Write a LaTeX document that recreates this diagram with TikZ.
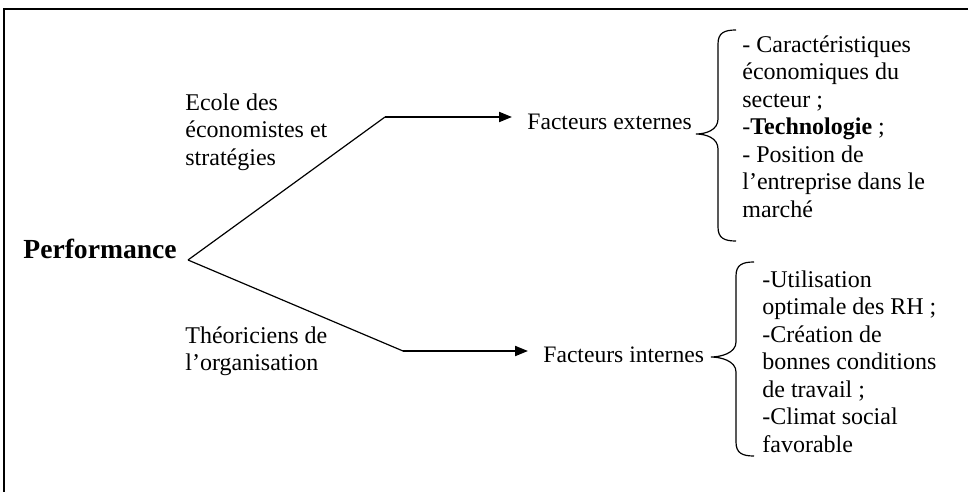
\documentclass[tikz,border=0pt]{standalone}
\usepackage{fontspec}
\setmainfont{Liberation Serif}
\usetikzlibrary{arrows.meta}

% fixes the height of a block's first line, so north west sits 10pt above its baseline
\newcommand{\firstlinestrut}{\rule{0pt}{10pt}}

% curly brace: #1 spine x, #2 tip x, #3 end x, #4 top y, #5 tip y, #6 bottom y
\newcommand{\wordbrace}[6]{%
  \draw[bracestroke] (#3,#4) .. controls (#1+6,#4) and (#1,#4+3) .. (#1,#4+14)
    -- (#1,#5-15) .. controls (#1,#5-4) and (#2+10,#5) .. (#2,#5)
    .. controls (#2+10,#5) and (#1,#5+4) .. (#1,#5+15)
    -- (#1,#6-14) .. controls (#1,#6-3) and (#1+6,#6) .. (#3,#6);}

\tikzset{
  txt/.style={inner sep=0pt, align=left, font=\fontsize{12pt}{13.75pt}\selectfont},
  title/.style={inner sep=0pt, font=\fontsize{13.8pt}{16pt}\selectfont\bfseries},
  factor/.style={inner ysep=0pt, inner xsep=7.5pt, font=\fontsize{11.8pt}{13.75pt}\selectfont},
  framestroke/.style={line width=0.75pt},
  branch/.style={line width=0.6pt},
  feed/.style={line width=1pt, -{Triangle[length=6.5pt,width=5pt]}},
  bracestroke/.style={line width=0.6pt}
}

\begin{document}
\begin{tikzpicture}[x=0.5pt,y=-0.5pt]
\useasboundingbox (0,0) rectangle (968,492);

% frame edges
\draw[framestroke] (4,495) -- (4,9) -- (972,9);

% root
\node[title, anchor=base west] (perf) at (23,258) {Performance};
\coordinate (fork) at (188,260);

% schools of thought
\node[txt, anchor=north west] (ecole) at (185,90)
  {\firstlinestrut Ecole des\\économistes et\\stratégies};
\node[txt, anchor=north west] (theo) at (185,323)
  {\firstlinestrut Théoriciens de\\l’organisation};

% factor groups
\node[factor, anchor=base west] (ext) at (512,129) {Facteurs externes};
\node[factor, anchor=base west] (int) at (528,362) {Facteurs internes};

% bends of the two branches
\coordinate (upbend) at (385,117);
\coordinate (lowbend) at (403,351);

\draw[branch] (fork) -- (upbend);
\draw[branch] (fork) -- (lowbend);
\draw[feed] (upbend) -- (upbend -| ext.west);
\draw[feed] (lowbend) -- (lowbend -| int.west);

% detail lists
\node[txt, anchor=north west] (extlist) at (742,32)
  {\firstlinestrut - Caractéristiques\\économiques du\\secteur ;\\-\textbf{Technologie} ;\\- Position de\\l’entreprise dans le\\marché};
\node[txt, anchor=north west] (intlist) at (762,267)
  {\firstlinestrut -Utilisation\\optimale des RH ;\\-Création de\\bonnes conditions\\de travail ;\\-Climat social\\favorable};

% braces
\wordbrace{718}{696}{736}{30}{134}{241}
\wordbrace{736}{711}{754}{262}{357}{456}
\end{tikzpicture}
\end{document}
